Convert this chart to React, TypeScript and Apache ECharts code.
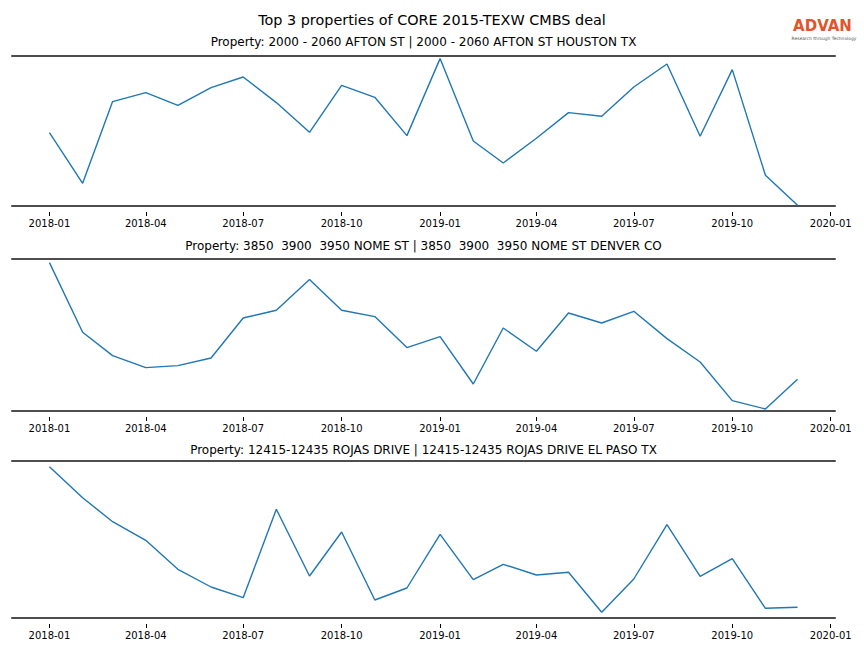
import React, { useEffect, useRef } from "react";
import * as echarts from "echarts";

const months = [
  "2018-01", "2018-02", "2018-03", "2018-04", "2018-05", "2018-06",
  "2018-07", "2018-08", "2018-09", "2018-10", "2018-11", "2018-12",
  "2019-01", "2019-02", "2019-03", "2019-04", "2019-05", "2019-06",
  "2019-07", "2019-08", "2019-09", "2019-10", "2019-11", "2019-12",
];
const tickLabels = [
  "2018-01", "2018-04", "2018-07", "2018-10", "2019-01",
  "2019-04", "2019-07", "2019-10", "2020-01",
];
const aftonValues = [
  73.4, 22.7, 104.4, 113.4, 100.7, 118.4, 129, 103.4, 73.7, 120.7, 108.7, 70.4,
  147.4, 65, 43, 67.7, 93.4, 89.7, 119, 142, 69.7, 136.4, 30.7, 0.7,
];
const nomeValues = [
  148.4, 78.7, 55.4, 43.4, 45.4, 53, 93, 100.7, 131.4, 100.7, 94.4, 63.4,
  74.4, 27, 83, 59.7, 98, 88, 99.7, 72.4, 49, 10.4, 2, 31.7,
];
const rojasValues = [
  151.3, 120.3, 96.3, 77.7, 48.7, 31, 20.3, 108.7, 42, 86, 18, 30,
  83.7, 38.3, 53.7, 43, 45.7, 5.7, 39, 93.3, 41.7, 59.3, 9.7, 10.7,
];
const mainTitle = "Top 3 properties of CORE 2015-TEXW CMBS deal";
const panelTitles = [
  "Property: 2000 - 2060 AFTON ST | 2000 - 2060 AFTON ST HOUSTON TX",
  "Property: 3850  3900  3950 NOME ST | 3850  3900  3950 NOME ST DENVER CO",
  "Property: 12415-12435 ROJAS DRIVE | 12415-12435 ROJAS DRIVE EL PASO TX",
];
const yMaxes = [150, 152, 157];

const toTime = (s: string) => {
  const [y, m] = s.split("-").map(Number);
  return new Date(y, m - 1, 1).getTime();
};
const fmt = (v: number) => {
  const d = new Date(v);
  return `${d.getFullYear()}-${String(d.getMonth() + 1).padStart(2, "0")}`;
};

export default function App() {
  const ref = useRef<HTMLDivElement>(null);
  useEffect(() => {
    if (!ref.current) return;
    const chart = echarts.init(ref.current, null, { renderer: "svg" });
    const font = "DejaVu Sans";
    const seriesValues = [aftonValues, nomeValues, rojasValues];
    const grids = [
      { left: 12, right: 29, top: 56, height: 150 },
      { left: 12, right: 29, top: 259, height: 152 },
      { left: 12, right: 29, top: 461, height: 157 },
    ];
    const xMin = new Date(2017, 10, 27).getTime();
    const xMax = new Date(2020, 0, 5).getTime();
    const tickVals = tickLabels.map(toTime);
    const spine = { show: true, lineStyle: { color: "#4d4d4d", width: 2 } };
    const xAxis: any[] = [];
    const yAxis: any[] = [];
    const series: any[] = [];
    grids.forEach((g, i) => {
      const base = { type: "value", gridIndex: i, min: xMin, max: xMax, splitLine: { show: false } };
      xAxis.push({ ...base, position: "bottom", axisLine: spine, axisTick: { show: false }, axisLabel: { show: false } });
      xAxis.push({
        ...base,
        position: "bottom",
        offset: 6,
        axisLine: { show: false },
        axisTick: { show: true, length: 4, customValues: tickVals, lineStyle: { color: "#000", width: 1 } },
        axisLabel: {
          show: true,
          customValues: tickVals,
          formatter: (v: number) => fmt(v),
          fontFamily: font,
          fontSize: 10,
          color: "#000",
          margin: 6,
          hideOverlap: false,
          showMinLabel: true,
          showMaxLabel: true,
        },
      });
      xAxis.push({ ...base, position: "top", axisLine: spine, axisTick: { show: false }, axisLabel: { show: false } });
      yAxis.push({ type: "value", gridIndex: i, min: 0, max: yMaxes[i], show: false });
      series.push({
        type: "line",
        xAxisIndex: i * 3,
        yAxisIndex: i,
        data: months.map((m, k) => [toTime(m), seriesValues[i][k]]),
        showSymbol: false,
        lineStyle: { color: "#1f77b4", width: 1.4 },
      });
    });
    const titleCenters = [42, 246, 450];
    chart.setOption({
      animation: false,
      grid: grids,
      xAxis,
      yAxis,
      series,
      graphic: [
        {
          type: "text",
          x: 432,
          y: 20,
          style: { text: mainTitle, font: `14.4px "${font}"`, fill: "#000", textAlign: "center", textVerticalAlign: "middle" },
        },
        ...panelTitles.map((t, i) => ({
          type: "text",
          x: 423.5,
          y: titleCenters[i],
          style: { text: t, font: `12px "${font}"`, fill: "#000", textAlign: "center", textVerticalAlign: "middle" },
        })),
        {
          type: "text",
          x: 822.5,
          y: 26,
          style: { text: "ADVAN", font: `bold 15px "${font}"`, lineHeight: 14, fill: "#e4532a", textAlign: "center", textVerticalAlign: "middle" },
        },
        {
          type: "text",
          x: 824,
          y: 38.5,
          style: { text: "Research through Technology", font: `4.4px "${font}"`, lineHeight: 5, fill: "#555", textAlign: "center", textVerticalAlign: "middle" },
        },
      ],
    });
    return () => chart.dispose();
  }, []);
  return (
    <div
      ref={ref}
      style={{ position: "fixed", left: 0, top: 0, width: 864, height: 648, background: "#fff" }}
    />
  );
}
